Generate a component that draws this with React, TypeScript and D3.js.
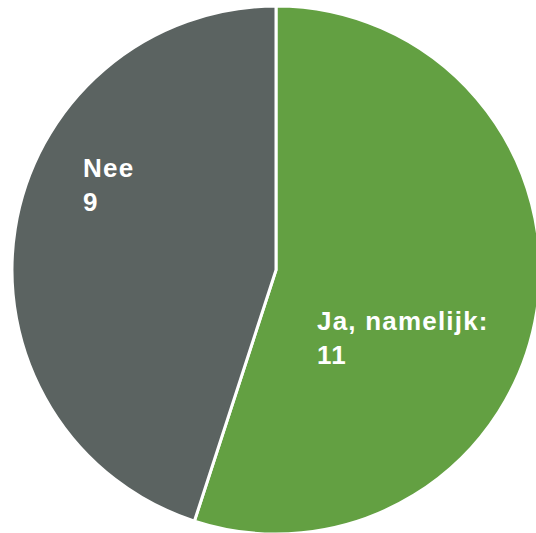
import React from "react";
import * as d3 from "d3";

const categories = ["Ja, namelijk:", "Nee"];
const values = [11, 9];
const colors = ["#63a042", "#5b6361"];

const W = 536, H = 533;
const cx = 276, cy = 270, R = 264;

export default function App() {
  const pie = d3.pie<number>().sort(null).value((d) => d);
  const arcs = pie(values);
  const arc = d3.arc<d3.PieArcDatum<number>>().innerRadius(0).outerRadius(R);
  const labelPos = [
    { x: 317, y: 330 },
    { x: 83, y: 177 },
  ];
  return (
    <svg width={W} height={H} style={{ position: "absolute", left: 0, top: 0 }}>
      <g transform={`translate(${cx},${cy})`}>
        {arcs.map((a, i) => (
          <path key={i} d={arc(a) || ""} fill={colors[i]} stroke="#ffffff" strokeWidth={3} strokeLinejoin="miter" />
        ))}
      </g>
      {arcs.map((a, i) => (
        <text key={i} x={labelPos[i].x} y={labelPos[i].y} fill="#ffffff" fontFamily="Liberation Sans, Arial, sans-serif" fontWeight="bold" fontSize={26} letterSpacing={1.2}>
          <tspan x={labelPos[i].x}>{categories[i]}</tspan>
          <tspan x={labelPos[i].x} dy={34}>{values[i]}</tspan>
        </text>
      ))}
    </svg>
  );
}
